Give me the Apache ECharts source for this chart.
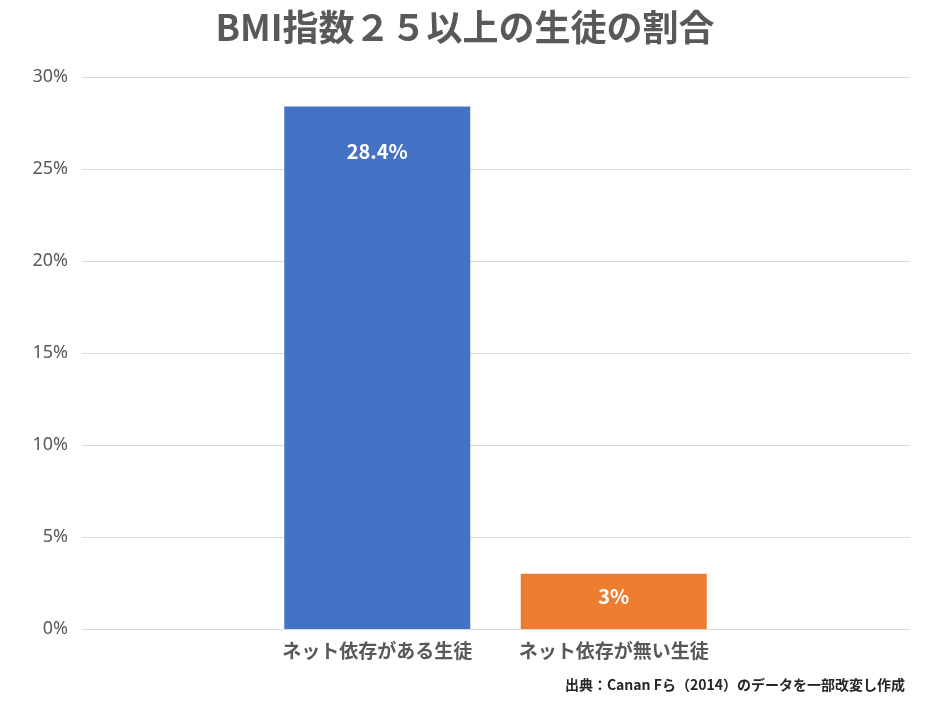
<!DOCTYPE html>
<html>
<head>
<meta charset="utf-8">
<script src="https://cdn.jsdelivr.net/npm/echarts@6/dist/echarts.min.js"></script>
<style>
html,body{margin:0;padding:0;background:#fff;}
#chart{width:930px;height:706px;}
</style>
</head>
<body>
<div id="chart"></div>
<script>
const titleText = 'BMI指数２５以上の生徒の割合';
const categories = ['ネット依存がある生徒', 'ネット依存が無い生徒'];
const values = [0.284, 0.03];
const barColors = ['#4472C4', '#ED7D31'];
const labelDistances = [35, 13];
const yTicks = { min: 0, max: 0.3, interval: 0.05 };
const sourceText = '出典：Canan Fら（2014）のデータを一部改変し作成';

const FONT = '"Noto Sans CJK JP", "Noto Sans", sans-serif';
const chart = echarts.init(document.getElementById('chart'));

const fmtPct = v => {
  const p = Math.round(v * 1000) / 10;
  return (Number.isInteger(p) ? p.toFixed(0) : p.toFixed(1)) + '%';
};

chart.setOption({
  animation: false,
  backgroundColor: '#ffffff',
  title: {
    text: titleText,
    left: 'center',
    top: 4,
    textStyle: { fontFamily: FONT, fontSize: 36, fontWeight: 'bold', color: '#595959' }
  },
  grid: [
    { left: 82, right: 20, top: 77, bottom: 77 },
    { left: 259, right: 198, top: 77, bottom: 77 }
  ],
  xAxis: [
    { type: 'category', gridIndex: 0, data: [''], show: false },
    {
      type: 'category', gridIndex: 1, data: categories,
      axisLine: { show: false }, axisTick: { show: false },
      axisLabel: { interval: 0, hideOverlap: false, margin: 12, fontFamily: FONT, fontSize: 19, fontWeight: 'bold', color: '#595959' }
    }
  ],
  yAxis: [
    {
      type: 'value', gridIndex: 0, min: yTicks.min, max: yTicks.max, interval: yTicks.interval,
      axisLine: { show: false }, axisTick: { show: false },
      splitLine: { lineStyle: { color: '#d9d9d9', width: 1 } },
      axisLabel: { margin: 14, fontFamily: '"Noto Sans", sans-serif', fontSize: 18, color: '#595959', formatter: fmtPct }
    },
    {
      type: 'value', gridIndex: 1, min: yTicks.min, max: yTicks.max, interval: yTicks.interval,
      show: false, splitLine: { show: false }
    }
  ],
  series: [{
    type: 'bar',
    xAxisIndex: 1, yAxisIndex: 1,
    barWidth: 186,
    data: values.map((v, i) => ({
      value: v,
      itemStyle: { color: barColors[i] },
      label: { distance: labelDistances[i] }
    })),
    label: {
      show: true, position: 'insideTop',
      fontFamily: FONT, fontSize: 20, fontWeight: 'bold', color: '#ffffff',
      formatter: p => fmtPct(p.value)
    }
  }],
  graphic: [{
    type: 'text',
    right: 25, top: 678,
    style: { text: sourceText, fontFamily: FONT, fontSize: 14, fontWeight: 'bold', fill: '#262626' }
  }]
});
</script>
</body>
</html>
